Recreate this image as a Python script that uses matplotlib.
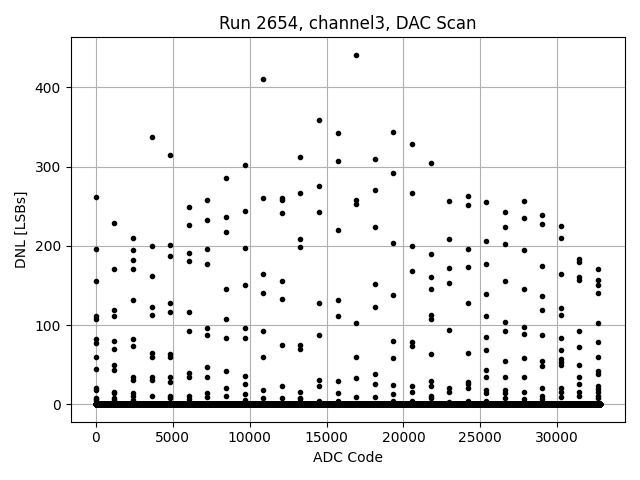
import numpy as np
import matplotlib
matplotlib.use("Agg")
import matplotlib.pyplot as plt

# codes where the DNL spikes show up (one column each)
spike_codes = [0, 1209, 2418, 3627, 4836, 6045, 7254, 8463, 9672, 10881,
               12090, 13299, 14508, 15717, 16926, 18135, 19344, 20553, 21762,
               22971, 24180, 25389, 26598, 27807, 29016, 30225, 31434, 32643]

# DNL values
spike_dnl = [
    [261, 196, 155, 111, 108, 82, 77, 59, 45, 20, 18, 8, 7, 4],
    [229, 171, 119, 112, 80, 70, 50, 43, 16, 14, 8, 5],
    [210, 195, 182, 171, 131, 82, 74, 35, 31, 14, 11, 5],
    [337, 200, 162, 123, 113, 65, 59, 35, 30, 11],
    [314, 201, 187, 128, 117, 63, 60, 35, 28, 10, 8],
    [249, 226, 191, 181, 117, 92, 40, 35, 11, 6],
    [258, 232, 196, 177, 96, 87, 47, 35, 14, 9],
    [286, 236, 217, 146, 108, 83, 42, 20, 10],
    [302, 244, 197, 151, 96, 83, 36, 26, 13, 5],
    [410, 260, 165, 141, 93, 59, 18, 8],
    [260, 258, 241, 155, 133, 75, 23, 8],
    [312, 266, 209, 199, 75, 70, 15, 8, 6],
    [359, 276, 243, 128, 88, 30, 23, 4],
    [342, 307, 220, 132, 111, 29, 14, 4],
    [441, 258, 253, 102, 60, 33, 9],
    [310, 270, 224, 152, 123, 38, 25, 9],
    [343, 292, 204, 138, 80, 58, 24, 13, 4],
    [328, 266, 200, 168, 78, 74, 23, 15, 4],
    [305, 190, 160, 145, 113, 107, 64, 29, 23, 10, 8],
    [256, 209, 172, 153, 94, 20, 15, 3],
    [263, 251, 196, 173, 128, 65, 28, 25, 20, 4],
    [255, 206, 177, 139, 111, 85, 68, 43, 35, 18, 14, 4],
    [243, 224, 202, 156, 104, 92, 54, 34, 18, 14, 8],
    [256, 235, 195, 146, 97, 89, 58, 34, 16, 6],
    [239, 227, 175, 136, 119, 88, 55, 48, 21, 10, 6],
    [225, 210, 165, 122, 113, 84, 68, 57, 53, 49, 20, 16, 9],
    [183, 180, 161, 157, 93, 72, 50, 35, 26, 15, 11],
    [171, 157, 150, 141, 102, 79, 60, 42, 38, 23, 19, 15, 11, 8],
]

# every other code sits at (about) zero DNL
n_codes = 32768
base_codes = np.arange(n_codes)
base_dnl = np.zeros(n_codes)

x = list(base_codes)
y = list(base_dnl)
for code, vals in zip(spike_codes, spike_dnl):
    x += [code] * len(vals)
    y += vals

plt.figure(figsize=(6.4, 4.8), dpi=100)
plt.plot(x, y, 'k.')
plt.xlabel("ADC Code")
plt.ylabel("DNL [LSBs]")
plt.title("Run 2654, channel3, DAC Scan")
plt.grid(True)
plt.tight_layout()
plt.savefig("out.png", dpi=100)
plt.close()
